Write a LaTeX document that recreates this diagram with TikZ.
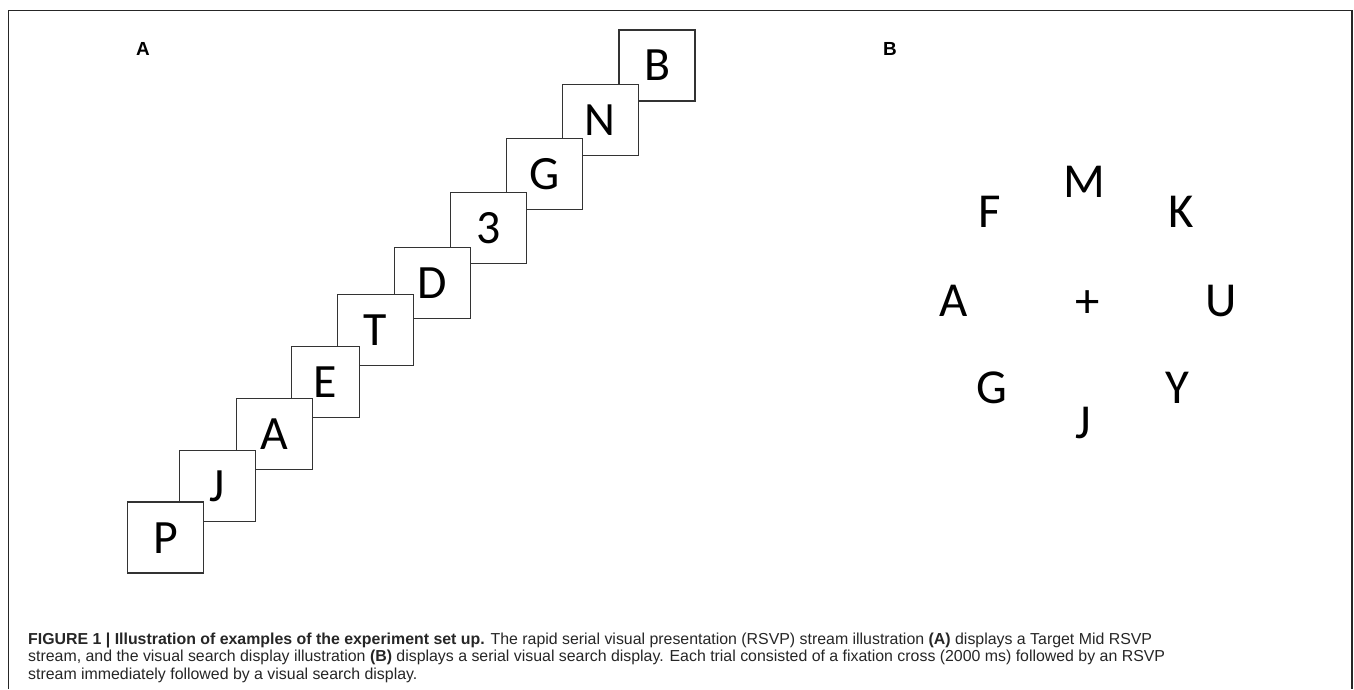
\documentclass[tikz,border=0pt]{standalone}
\usepackage{fontspec}
\setmainfont{Liberation Sans}
\newfontfamily\carlito{Carlito}
\begin{document}
\begin{tikzpicture}[x=1bp,y=-1bp,
  card/.style={draw=black!80,line width=1.1bp,fill=white,inner sep=0pt,
    minimum width=76bp,minimum height=71bp,
    font=\carlito\fontsize{48}{48}\selectfont,text height=31bp,text depth=0pt},
  lett/.style={inner sep=0pt,font=\carlito\fontsize{49}{49}\selectfont,
    text height=31.5bp,text depth=0pt},
  plussign/.style={inner sep=0pt,font=\carlito\fontsize{49}{49}\selectfont},
  panel/.style={inner sep=0pt,font=\fontsize{19}{19}\selectfont\bfseries,
    text height=13.5bp,text depth=0pt},
  capline/.style={inner sep=0pt,anchor=base west,
    font=\fontsize{15.95}{15.95}\selectfont,text=black!85}]
\useasboundingbox (0,0) rectangle (1354,689);
% frame (open at the bottom)
\coordinate (fbl) at (8.5,689);
\coordinate (ftl) at (8.5,10.5);
\coordinate (ftr) at (1352,10.5);
\coordinate (fbr) at (1352,689);
\draw[black!85,line width=1.3bp] (fbl) -- (ftl) -- (ftr) -- (fbr);
% panel labels
\node[panel] (labA) at (143,49) {A};
\node[panel] (labB) at (890,49) {B};
% RSVP stream, back to front
\node[card] (cB) at (657,65.5) {B};
\node[card] (cN) at (600.4,119.8) {N};
\node[card] (cG) at (544.3,173.9) {G};
\node[card] (c3) at (488.4,228.2) {3};
\node[card] (cD) at (432.1,282.6) {D};
\node[card] (cT) at (375.6,330.3) {T};
\node[card,minimum width=67.5bp] (cE) at (325.3,382) {E};
\node[card] (cA) at (274.8,433.6) {A};
\node[card] (cJ) at (217.1,485.6) {J};
\node[card] (cP) at (165.7,537.5) {P};
% visual search display
\node[lett] (sM) at (1084.7,181.3) {M};
\node[lett] (sF) at (990,212) {F};
\node[lett] (sK) at (1181,212) {K};
\node[lett] (sA) at (954,300.5) {A};
\node[plussign] (sPlus) at (1087.5,304) {+};
\node[lett] (sU) at (1221,300.5) {U};
\node[lett] (sG) at (992,388) {G};
\node[lett] (sY) at (1177,388) {Y};
\node[lett] (sJ) at (1083,423) {J};
% caption
\node[capline] (cap1) at (28,644) {\textbf{FIGURE 1 | Illustration of examples of the experiment set up.} The rapid serial visual presentation (RSVP) stream illustration \textbf{(A)} displays a Target Mid RSVP};
\node[capline] (cap2) at (28,661.5) {stream, and the visual search display illustration \textbf{(B)} displays a serial visual search display. Each trial consisted of a fixation cross (2000 ms) followed by an RSVP};
\node[capline] (cap3) at (28,679) {stream immediately followed by a visual search display.};
\end{tikzpicture}
\end{document}
